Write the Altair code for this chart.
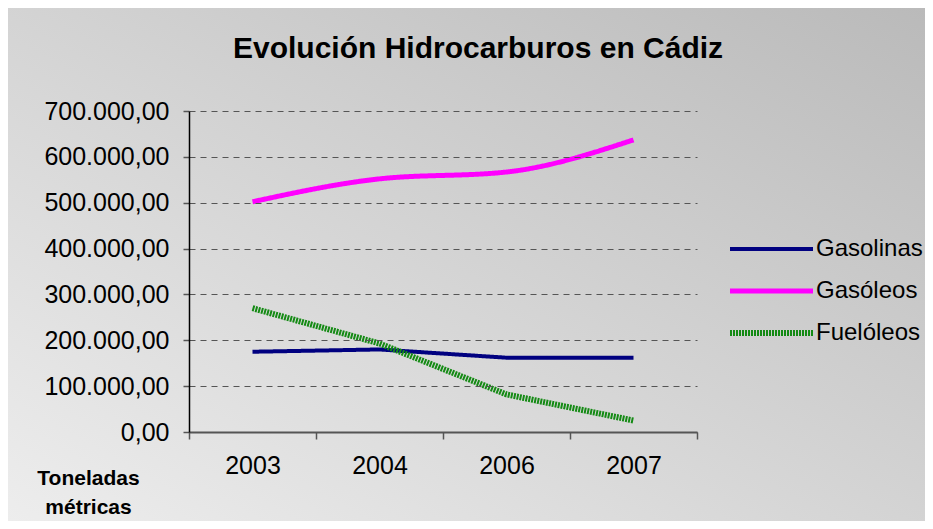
import altair as alt
import pandas as pd

title_text = "Evolución Hidrocarburos en Cádiz"
years = ["2003", "2004", "2006", "2007"]
series = ["Gasolinas", "Gasóleos", "Fuelóleos"]
gasolinas = [175000, 180000, 162000, 162000]
gasoleos = [502000, 552000, 567000, 637000]
fueloleos = [270000, 193000, 82000, 25000]

colors = ["#000080", "#ff00ff", "#148a14"]
widths = [4, 6, 4.5]
dashes = [[1, 0], [1, 0], [2, 1]]

rows = []
for name, vals in zip(series, [gasolinas, gasoleos, fueloleos]):
    for y, v in zip(years, vals):
        rows.append({"Año": y, "Serie": name, "Valor": v})
df = pd.DataFrame(rows)
legend_df = pd.DataFrame({"Serie": series})

FONT = "Liberation Sans"
W, H = 508, 321
PL, PT, PR, PB = 181, 103, 228, 89

color_scale = alt.Scale(domain=series, range=colors)
width_scale = alt.Scale(domain=series, range=widths)
dash_scale = alt.Scale(domain=series, range=dashes)

gradient = alt.LinearGradient(
    gradient="linear",
    stops=[alt.GradientStop(color="#ededed", offset=0),
           alt.GradientStop(color="#bababa", offset=1)],
    x1=0, y1=1, x2=1, y2=0,
)

bg = alt.Chart(pd.DataFrame({"a": [0]})).mark_rect(fill=gradient, clip=False).encode(
    x=alt.value(-PL), x2=alt.value(W + PR), y=alt.value(-PT), y2=alt.value(H + PB)
)

title_layer = alt.Chart(pd.DataFrame({"t": [title_text]})).mark_text(
    font=FONT, fontSize=30, fontWeight="bold", color="black",
    align="center", baseline="alphabetic", clip=False
).encode(text="t:N", x=alt.value(289), y=alt.value(-53))

base = alt.Chart(df).encode(
    x=alt.X("Año:N", sort=years,
            scale=alt.Scale(paddingInner=0, paddingOuter=0),
            axis=alt.Axis(title=None, labelAngle=0, tickBand="extent", tickSize=7,
                          tickColor="#555555", tickWidth=1.5, domainColor="#555555",
                          domainWidth=2, labelFontSize=25, labelPadding=14,
                          labelFont=FONT, labelColor="black", grid=False, zindex=1)),
    y=alt.Y("Valor:Q",
            scale=alt.Scale(domain=[0, 700000], nice=False),
            axis=alt.Axis(values=[0, 100000, 200000, 300000, 400000, 500000, 600000, 700000],
                          format=",.2f", domainColor="black", domainWidth=1.5,
                          tickSize=6, tickColor="#555555", tickWidth=1.5,
                          grid=True, gridDash=[6, 5], gridColor="#555555", gridWidth=1.2,
                          labelFontSize=25, labelFont=FONT, labelColor="black", labelPadding=14,
                          title=["Toneladas", "métricas"], titleAngle=0, titleFontSize=21,
                          titleFont=FONT, titleFontWeight="bold", titleColor="black",
                          titleX=-101, titleY=356, titleAlign="center",
                          titleBaseline="top", titleLineHeight=29, zindex=1)),
    color=alt.Color("Serie:N", scale=color_scale, legend=None),
    strokeWidth=alt.StrokeWidth("Serie:N", scale=width_scale, legend=None),
    strokeDash=alt.StrokeDash("Serie:N", scale=dash_scale, legend=None),
)

lines_lin = base.transform_filter(alt.datum.Serie != "Gasóleos").mark_line()
lines_smooth = base.transform_filter(alt.datum.Serie == "Gasóleos").mark_line(interpolate="monotone")

main = alt.layer(bg, lines_lin, lines_smooth, title_layer)

leg_y = alt.Y("Serie:N", sort=series, axis=None,
              scale=alt.Scale(type="point", domain=series, range=[138, 222], padding=0))
leg_rules = alt.Chart(legend_df).mark_rule(clip=False, strokeCap="butt").encode(
    y=leg_y, x=alt.value(541), x2=alt.value(624),
    color=alt.Color("Serie:N", scale=color_scale, legend=None),
    strokeWidth=alt.StrokeWidth("Serie:N", scale=width_scale, legend=None),
    strokeDash=alt.StrokeDash("Serie:N", scale=dash_scale, legend=None),
)
leg_text = alt.Chart(legend_df).mark_text(
    align="left", baseline="middle", font=FONT, fontSize=24, color="black", clip=False
).encode(y=leg_y, x=alt.value(627), text="Serie:N")
legend = alt.layer(leg_rules, leg_text)

chart = alt.layer(main, legend).resolve_scale(y="independent").properties(
    width=W, height=H,
    autosize=alt.AutoSizeParams(type="none"),
    padding={"left": PL, "top": PT, "right": PR, "bottom": PB},
).configure(
    locale={"number": {"decimal": ",", "thousands": ".", "grouping": [3],
                        "currency": ["", " €"]}}
).configure_view(stroke=None)

chart.save("out.html", embed_options={"renderer": "svg", "actions": False})
